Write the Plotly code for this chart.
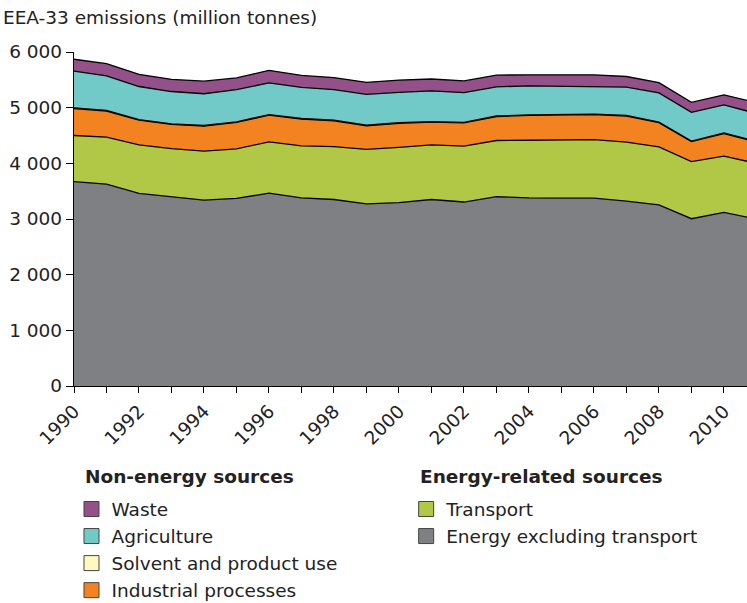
import plotly.graph_objects as go

years = list(range(1990, 2012))

energy_excl_transport = [3670, 3625, 3460, 3395, 3340, 3370, 3465, 3380, 3350, 3270, 3295,
                         3350, 3305, 3400, 3380, 3375, 3375, 3320, 3255, 3005, 3120, 3000]
transport = [830, 845, 870, 870, 880, 890, 920, 935, 950, 980, 990,
             980, 1005, 1010, 1035, 1040, 1050, 1060, 1040, 1025, 1010, 1000]
industrial = [485, 470, 445, 435, 450, 475, 480, 480, 465, 425, 435,
              410, 415, 430, 445, 450, 450, 470, 435, 360, 405, 385]
solvent = [10, 10, 10, 10, 10, 10, 10, 10, 10, 10, 10,
           10, 10, 10, 10, 10, 10, 10, 10, 10, 10, 10]
agriculture = [660, 620, 595, 580, 570, 580, 570, 560, 550, 555, 545,
               550, 535, 525, 520, 510, 500, 510, 525, 515, 505, 500]
waste = [215, 220, 220, 220, 225, 210, 225, 215, 215, 215, 220,
         215, 210, 210, 200, 205, 205, 190, 185, 180, 180, 195]

y_ticks = [0, 1000, 2000, 3000, 4000, 5000, 6000]
y_labels = ["0", "1 000", "2 000", "3 000", "4 000", "5 000", "6 000"]

# bottom to top, with the legend each series goes to and its place in it
series = [
    ("Energy excluding transport", energy_excl_transport, "#7f8084", "legend2", 2),
    ("Transport", transport, "#b1c847", "legend2", 1),
    ("Industrial processes", industrial, "#f38321", "legend", 4),
    ("Solvent and product use", solvent, "#fff9bf", "legend", 3),
    ("Agriculture", agriculture, "#72cac8", "legend", 2),
    ("Waste", waste, "#945089", "legend", 1),
]

FONT = "DejaVu Sans, Verdana, sans-serif"
FS = 18.5

fig = go.Figure()
for name, vals, col, leg, rank in series:
    fig.add_trace(go.Scatter(
        x=years, y=vals, name=name, stackgroup="one", mode="lines",
        line=dict(color="black", width=1.3), fillcolor=col,
        showlegend=False, hoverinfo="x+y+name",
    ))
for name, vals, col, leg, rank in series:
    # legend swatch only, nothing drawn on the plot
    fig.add_trace(go.Scatter(
        x=[None], y=[None], name=name, mode="markers", legend=leg,
        legendgroup=name, legendrank=rank, hoverinfo="skip",
        marker=dict(symbol="square", size=15, color=col,
                    line=dict(color="#444", width=1)),
    ))

fig.update_layout(
    width=747, height=603,
    margin=dict(l=74, r=0, t=52, b=217, autoexpand=False),
    plot_bgcolor="white", paper_bgcolor="white",
    font=dict(family=FONT, size=FS, color="#222"),
    title=dict(text="EEA-33 emissions (million tonnes)", x=0.004, xanchor="left",
               y=1 - 18 / 603, yanchor="middle", font=dict(size=FS, color="#222")),
    legend=dict(
        traceorder="grouped", tracegroupgap=0,
        xref="container", yref="container",
        x=0.0957, y=0.1866, xanchor="left", yanchor="top",
        font=dict(size=FS), bgcolor="rgba(0,0,0,0)", itemclick=False,
    ),
    legend2=dict(
        traceorder="grouped", tracegroupgap=0,
        xref="container", yref="container",
        x=0.5437, y=0.1866, xanchor="left", yanchor="top",
        font=dict(size=FS), bgcolor="rgba(0,0,0,0)", itemclick=False,
    ),
    annotations=[
        dict(text="<b>Non-energy sources</b>", xref="paper", yref="paper",
             x=(83 - 74) / 673, y=(386 - 476) / 334, xanchor="left", yanchor="middle",
             showarrow=False, font=dict(size=FS)),
        dict(text="<b>Energy-related sources</b>", xref="paper", yref="paper",
             x=(418 - 74) / 673, y=(386 - 476) / 334, xanchor="left", yanchor="middle",
             showarrow=False, font=dict(size=FS)),
    ],
)

fig.update_xaxes(
    type="linear", range=[1990, 2010.71], tickmode="linear", tick0=1990, dtick=2,
    tickangle=-45, ticks="outside", ticklen=6, tickcolor="black",
    minor=dict(dtick=1, tick0=1990, ticks="outside", ticklen=6, tickcolor="black"),
    showline=True, linecolor="black", linewidth=1.3, showgrid=False, zeroline=False,
    tickfont=dict(size=FS),
)
fig.update_yaxes(
    range=[0, 6000], tickvals=y_ticks, ticktext=y_labels,
    ticks="outside", ticklen=7, tickcolor="black",
    showline=True, linecolor="black", linewidth=1.3, showgrid=False, zeroline=False,
    tickfont=dict(size=FS),
)

# drop the page's default body margin so the figure sits at the window's corner
fig.write_html("out.html", config={"displayModeBar": False},
               post_script="document.body.style.margin='0';")
